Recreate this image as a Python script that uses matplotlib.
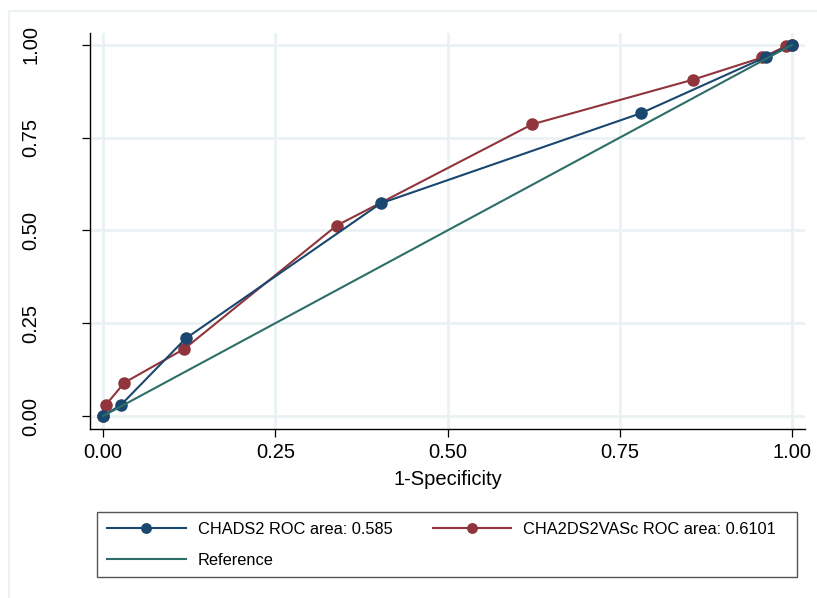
import matplotlib.pyplot as plt
import matplotlib.patches as mpatches

plt.rcParams['font.family'] = ['Liberation Sans', 'DejaVu Sans']

# ROC points
chads2_fpr = [0.0, 0.026, 0.120, 0.403, 0.781, 0.963, 1.0]
chads2_tpr = [0.0, 0.030, 0.209, 0.573, 0.816, 0.968, 1.0]

vasc_fpr = [0.0, 0.004, 0.031, 0.118, 0.339, 0.623, 0.856, 0.957, 0.992, 1.0]
vasc_tpr = [0.0, 0.030, 0.090, 0.181, 0.513, 0.786, 0.906, 0.966, 0.997, 1.0]

ref_x = [0.0, 1.0]
ref_y = [0.0, 1.0]

ticks = [0.0, 0.25, 0.50, 0.75, 1.0]
tick_labels = ['0.00', '0.25', '0.50', '0.75', '1.00']

labels = ['CHADS2 ROC area: 0.585', 'CHA2DS2VASc ROC area: 0.6101', 'Reference']

navy = '#1a476f'
maroon = '#90353b'
teal = '#2e6e68'
grid_col = '#eaf2f3'

fig = plt.figure(figsize=(8.17, 5.98), dpi=100)
ax = fig.add_axes([90/817, 169/598, 715/817, 396/598])

# outer graph region outline
fig.patches.append(mpatches.Rectangle((9/817, -0.05), 1.2, 1 - 11/598 + 0.05,
                                      transform=fig.transFigure, fill=False,
                                      edgecolor=grid_col, lw=1.5))

l1, = ax.plot(chads2_fpr, chads2_tpr, color=navy, lw=1.5, marker='o', ms=8, zorder=4)
l2, = ax.plot(vasc_fpr, vasc_tpr, color=maroon, lw=1.5, marker='o', ms=8, zorder=3)
l3, = ax.plot(ref_x, ref_y, color=teal, lw=1.5, zorder=5)

ax.set_xlim(-0.019, 1.019)
ax.set_ylim(-0.035, 1.032)
ax.set_xticks(ticks)
ax.set_xticklabels(tick_labels)
ax.set_yticks(ticks)
ax.set_yticklabels(tick_labels, rotation=90, va='center')
ax.grid(True, color=grid_col, lw=2)
ax.set_axisbelow(True)
for s in ['top', 'right']:
    ax.spines[s].set_visible(False)
for s in ['left', 'bottom']:
    ax.spines[s].set_linewidth(1.0)
ax.tick_params(axis='x', length=6, width=0.9, labelsize=14.5, pad=4)
ax.tick_params(axis='y', length=6, width=0.9, labelsize=14.5, pad=30)
ax.set_xlabel('1-Specificity', fontsize=14.5, labelpad=6)

# legend box
fig.patches.append(mpatches.Rectangle((97/817, 21/598), 700/817, 65/598,
                                      transform=fig.transFigure, fill=False,
                                      edgecolor='#555555', lw=1.0))
fig.legend([l1, l3, l2], [labels[0], labels[2], labels[1]], ncol=2,
           loc='upper left', bbox_to_anchor=(97/817, 1 - 512/598),
           frameon=False, fontsize=11.8, handlelength=4.8, handletextpad=0.72,
           columnspacing=2.45, labelspacing=0.95, borderpad=0.62,
           borderaxespad=0, markerscale=0.85)

fig.savefig('out.png', dpi=100)
